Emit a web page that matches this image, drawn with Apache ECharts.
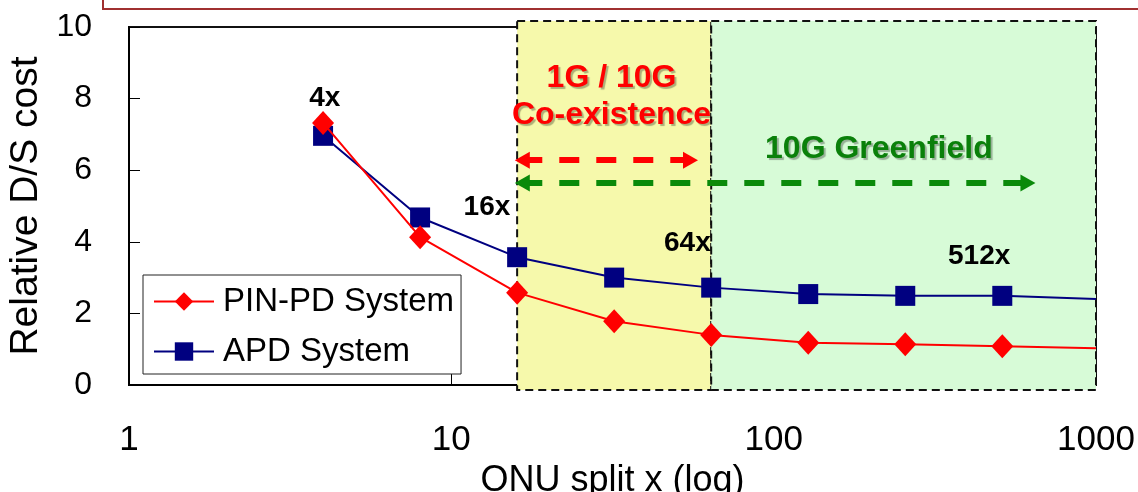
<!DOCTYPE html>
<html><head><meta charset="utf-8">
<script src="https://cdn.jsdelivr.net/npm/echarts@6/dist/echarts.min.js"></script>
<style>html,body{margin:0;padding:0;background:#fff}#c{width:1138px;height:492px}</style>
</head><body><div id="c"></div>
<script>
// ---- data ----
const splits = [4, 8, 16, 32, 64, 128, 256, 512, 1000];
const pinPD = [7.32, 4.13, 2.58, 1.78, 1.40, 1.18, 1.14, 1.08, 1.03];
const apd   = [6.96, 4.68, 3.57, 3.00, 2.72, 2.54, 2.49, 2.49, 2.40];
const seriesNames = ['PIN-PD System', 'APD System'];
const xTicks = [1, 10, 100, 1000];
const yTicks = [0, 2, 4, 6, 8, 10];
const splitNotes = ['4x', '16x', '64x', '512x'];
const splitNoteX = [4.05, 12.9, 54, 434];
const splitNoteY = [8.0, 4.97, 3.97, 3.6];
const coexRange = [16, 64];
const greenRange = [64, 1000];
const regionTexts = ['1G / 10G', 'Co-existence', '10G Greenfield'];

// ---- chart ----
const chart = echarts.init(document.getElementById('c'));
const font = '"Liberation Sans", Arial, sans-serif';
const shadow = {textShadowColor:'rgba(0,0,0,0.3)', textShadowOffsetX:2, textShadowOffsetY:2, textShadowBlur:1};

function pts(vals){
  return splits.map((x,i)=> i===splits.length-1 ? {value:[x,vals[i]], symbol:'none'} : [x, vals[i]]);
}
function lbl(color, size){
  return Object.assign({show:true, formatter:'{b}', position:'inside', fontSize:size, fontWeight:'bold', color:color, fontFamily:font}, shadow);
}

const option = {
  animation:false,
  backgroundColor:'#fff',
  textStyle:{fontFamily:font},
  grid:{left:129, right:42, top:27, bottom:107, show:true, borderColor:'#111', borderWidth:2, backgroundColor:'transparent', outerBoundsMode:'none', containLabel:false},
  legend:{
    data:seriesNames, orient:'vertical', left:143, top:275,
    padding:[10,7,6,10], itemGap:17, itemWidth:60, itemHeight:23,
    borderColor:'#222', borderWidth:1, backgroundColor:'#fff',
    textStyle:{fontSize:33, color:'#000', fontFamily:font, padding:[0,0,0,4]}, z:20
  },
  xAxis:{
    type:'log', logBase:10, min:xTicks[0], max:xTicks[xTicks.length-1],
    name:'ONU split x (log)', nameLocation:'middle', nameGap:73,
    nameTextStyle:{fontSize:36, color:'#000', fontFamily:font},
    axisLine:{lineStyle:{color:'#000', width:2}},
    axisTick:{inside:true, length:11, lineStyle:{color:'#000', width:1}},
    minorTick:{show:false},
    axisLabel:{fontSize:35, color:'#000', margin:38, fontFamily:font, formatter:v=>String(v)},
    splitLine:{show:false}
  },
  yAxis:{
    type:'value', min:yTicks[0], max:yTicks[yTicks.length-1], interval:2,
    name:'Relative D/S cost', nameLocation:'middle', nameGap:78,
    nameTextStyle:{fontSize:39, color:'#000', fontFamily:font},
    axisLine:{show:true, lineStyle:{color:'#000', width:2}},
    axisTick:{show:true, inside:true, length:11, lineStyle:{color:'#000', width:1}},
    axisLabel:{fontSize:32, color:'#000', margin:37, fontFamily:font},
    splitLine:{show:false}
  },
  series:[
    {
      name:'annotations', type:'line', data:[], clip:false, silent:true, z:6,
      markLine:{
        silent:true, symbol:['triangle','triangle'], symbolSize:[17,15],
        label:{show:false},
        data:[
          [{coord:[16.6,6.28], lineStyle:{color:'#ff0000', width:6, type:[20,17]}, itemStyle:{color:'#ff0000'}}, {coord:[55.2,6.28]}],
          [{coord:[16.6,5.64], lineStyle:{color:'#0a8a0a', width:6, type:[20,17]}, itemStyle:{color:'#0a8a0a'}}, {coord:[615,5.64]}]
        ]
      },
      markPoint:{
        silent:true, symbol:'circle', symbolSize:1, itemStyle:{color:'rgba(0,0,0,0)'},
        data:[
          {name:regionTexts[0], coord:[31.4,8.58], label:lbl('#ff0000',32)},
          {name:regionTexts[1], coord:[31.4,7.54], label:lbl('#ff0000',32)},
          {name:regionTexts[2], coord:[212,6.58], label:lbl('#0a800a',32)}
        ].concat(splitNotes.map((t,i)=>({name:t, coord:[splitNoteX[i], splitNoteY[i]],
          label:{show:true, formatter:'{b}', position:'inside', fontSize:28, fontWeight:'bold', color:'#000', fontFamily:font}})))
      }
    },
    {
      name:seriesNames[0], type:'line', data:pts(pinPD), z:5,
      symbol:'diamond', symbolSize:[22,24],
      lineStyle:{color:'#ff0000', width:2}, itemStyle:{color:'#ff0000'}
    },
    {
      name:seriesNames[1], type:'line', data:pts(apd), z:4,
      symbol:'rect', symbolSize:20,
      lineStyle:{color:'#000080', width:2}, itemStyle:{color:'#000080'}
    }
  ]
};
chart.setOption(option);

// shaded regions positioned through the library's own scales
function regionRect(range, fill){
  const a = chart.convertToPixel({xAxisIndex:0, yAxisIndex:0}, [range[0], yTicks[yTicks.length-1]]);
  const b = chart.convertToPixel({xAxisIndex:0, yAxisIndex:0}, [range[1], yTicks[0]]);
  return {type:'rect', silent:true, z:1, zlevel:0,
    shape:{x:a[0], y:a[1]-6, width:b[0]-a[0], height:b[1]-a[1]+11},
    style:{fill:fill, stroke:'#111', lineWidth:2, lineDash:[8,5]}};
}
chart.setOption({graphic:[
  {type:'rect', silent:true, shape:{x:103, y:-40, width:1100, height:49}, style:{fill:'none', stroke:'#a03030', lineWidth:2}, z:1},
  regionRect(coexRange, '#f6f9ab'),
  regionRect(greenRange, '#d7fbd7')
]});
</script></body></html>
